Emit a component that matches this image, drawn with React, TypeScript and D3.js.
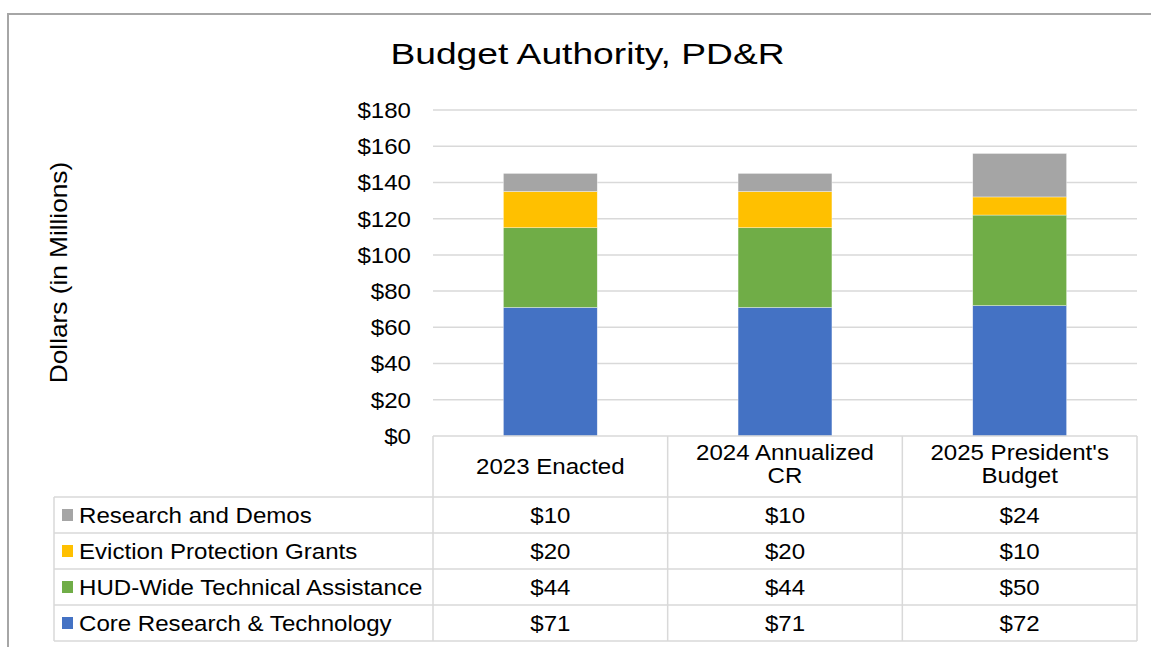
import React from 'react';
import * as d3 from 'd3';

const categories = ['2023 Enacted', '2024 Annualized CR', "2025 President's Budget"];
const categoryLines = [['2023 Enacted'], ['2024 Annualized', 'CR'], ["2025 President's", 'Budget']];
const seriesNames = ['Core Research & Technology', 'HUD-Wide Technical Assistance', 'Eviction Protection Grants', 'Research and Demos'];
const seriesColors = ['#4472C4', '#70AD47', '#FFC000', '#A5A5A5'];
const coreValues = [71, 71, 72];
const hudValues = [44, 44, 50];
const evictionValues = [20, 20, 10];
const researchValues = [10, 10, 24];
const yTicks = [0, 20, 40, 60, 80, 100, 120, 140, 160, 180];

const W = 1151;
const H = 647;
const FONT = "'Liberation Sans', Arial, sans-serif";
// the reference text is a bit wider than Arial at its height
const SX = 1.095;

const App = () => {
    const values = [coreValues, hudValues, evictionValues, researchValues];

    //build rows for d3.stack
    const rows = categories.map((c, i) => {
        const r: any = { cat: c };
        seriesNames.forEach((s, j) => { r[s] = values[j][i]; });
        return r;
    });
    const stacked = d3.stack().keys(seriesNames)(rows);

    const plotLeft = 433;
    const plotRight = 1137;
    const colScale = d3.scaleBand().domain(categories).range([plotLeft, plotRight]);
    const x = d3.scaleBand().domain(categories).range([plotLeft, plotRight]).paddingInner(0.6).paddingOuter(0.3);
    const y = d3.scaleLinear().domain([0, 180]).range([436, 110]);

    const tableLeft = 54;
    const headerBottom = 497;
    const rowH = 36;
    const tableRows = [...seriesNames].reverse();
    const gridColor = '#d9d9d9';
    const fs = 22;

    return (
        <svg width={W} height={H} style={{ position: 'absolute', left: 0, top: 0, display: 'block', background: '#fff' }} fontFamily={FONT}>
            {/* outer frame */}
            <line x1={8} y1={14} x2={W} y2={14} stroke="#a6a6a6" strokeWidth={2} />
            <line x1={8} y1={13} x2={8} y2={H} stroke="#a6a6a6" strokeWidth={2} />

            {/* title */}
            <text transform="translate(587.5,64) scale(1.24,1)" textAnchor="middle" fontSize={30} fill="#000">Budget Authority, PD&amp;R</text>

            {/* y axis label */}
            <text transform="translate(67,272.5) rotate(-90) scale(1.14,1)" textAnchor="middle" fontSize={23} fill="#000">Dollars (in Millions)</text>

            {/* gridlines and tick labels */}
            {yTicks.map(t => (
                <g key={t}>
                    {t > 0 && <line x1={plotLeft} x2={plotRight} y1={y(t)} y2={y(t)} stroke={gridColor} strokeWidth={1.5} />}
                    <text transform={`translate(411,${y(t)}) scale(${SX},1)`} dy="0.36em" textAnchor="end" fontSize={fs} fill="#000">{d3.format('$')(t)}</text>
                </g>
            ))}

            {/* bars */}
            {stacked.map((layer, j) => (
                <g key={layer.key} fill={seriesColors[j]}>
                    {layer.map((d: any, i) => (
                        <rect key={i} x={x(categories[i])} width={x.bandwidth()} y={y(d[1])} height={y(d[0]) - y(d[1])} stroke="#fff" strokeOpacity={0.6} strokeWidth={0.6} />
                    ))}
                </g>
            ))}

            {/* data table */}
            <g stroke={gridColor} strokeWidth={1.5}>
                <line x1={plotLeft} x2={plotRight} y1={y(0)} y2={y(0)} />
                {d3.range(tableRows.length + 1).map(k => (
                    <line key={k} x1={tableLeft} x2={plotRight} y1={headerBottom + k * rowH} y2={headerBottom + k * rowH} />
                ))}
                <line x1={tableLeft} x2={tableLeft} y1={headerBottom} y2={headerBottom + tableRows.length * rowH} />
                {categories.map(c => (
                    <line key={c} x1={colScale(c)} x2={colScale(c)} y1={y(0)} y2={headerBottom + tableRows.length * rowH} />
                ))}
                <line x1={plotRight} x2={plotRight} y1={y(0)} y2={headerBottom + tableRows.length * rowH} />
            </g>

            {/* header labels */}
            {categories.map((c, i) => {
                const lines = categoryLines[i];
                const cx = colScale(c)! + colScale.bandwidth() / 2;
                const mid = (y(0) + headerBottom) / 2 - (lines.length > 1 ? 2.5 : 0.5);
                const lh = 23;
                return (
                    <text key={c} transform={`translate(${cx},${mid}) scale(${SX},1)`} textAnchor="middle" fontSize={fs} fill="#000">
                        {lines.map((l, k) => (
                            <tspan key={k} x={0} y={(k - (lines.length - 1) / 2) * lh} dy="0.36em">{l}</tspan>
                        ))}
                    </text>
                );
            })}

            {/* table rows */}
            {tableRows.map((s, r) => {
                const j = seriesNames.indexOf(s);
                const cy = headerBottom + r * rowH + rowH / 2;
                return (
                    <g key={s}>
                        <rect x={62} y={cy - 6} width={11} height={12} fill={seriesColors[j]} />
                        <text transform={`translate(79,${cy}) scale(${SX},1)`} dy="0.36em" fontSize={fs} fill="#000">{s}</text>
                        {categories.map((c, i) => (
                            <text key={c} transform={`translate(${colScale(c)! + colScale.bandwidth() / 2},${cy}) scale(${SX},1)`} dy="0.36em" textAnchor="middle" fontSize={fs} fill="#000">
                                {d3.format('$')(values[j][i])}
                            </text>
                        ))}
                    </g>
                );
            })}
        </svg>
    );
};

export default App;
